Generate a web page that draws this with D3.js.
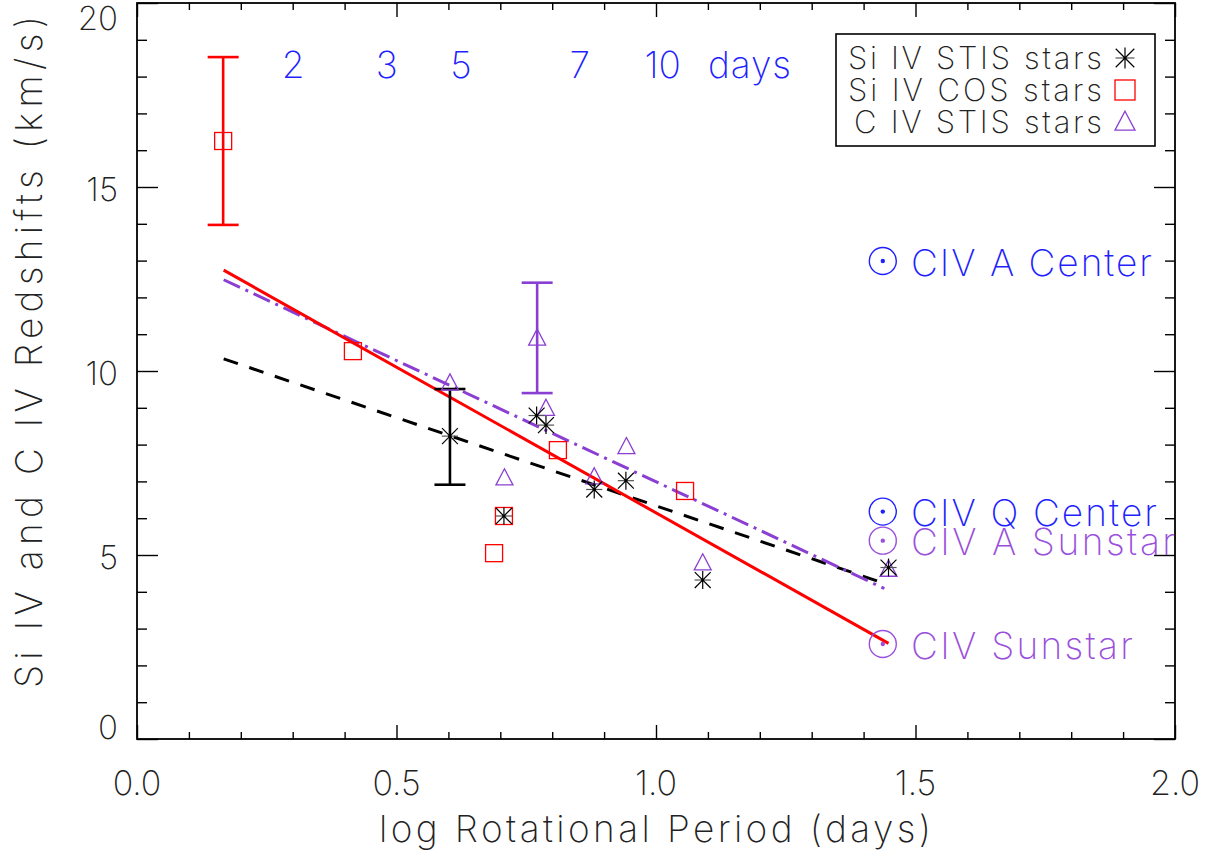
<!DOCTYPE html>
<html><head><meta charset="utf-8">
<script src="https://cdn.jsdelivr.net/npm/d3@7"></script>
<style>
body{margin:0;background:#fff}
text{font-family:"Inter","Lato","DejaVu Sans",sans-serif;font-weight:200}
</style></head>
<body><svg id="c" width="1231" height="857"></svg>
<script>
// ---------------- data ----------------
const siStisX = [0.603, 0.707, 0.770, 0.788, 0.881, 0.942, 1.090, 1.448];
const siStisY = [8.23, 6.06, 8.79, 8.53, 6.78, 7.02, 4.32, 4.66];
const siCosX  = [0.166, 0.416, 0.707, 0.688, 0.811, 1.056];
const siCosY  = [16.25, 10.54, 6.06, 5.05, 7.85, 6.74];
const cStisX  = [0.603, 0.771, 0.788, 0.708, 0.943, 0.881, 1.090, 1.448];
const cStisY  = [9.65, 10.87, 8.96, 7.07, 7.92, 7.10, 4.76, 4.59];
const errX      = [0.166, 0.603, 0.771];
const errLo     = [13.97, 6.91, 9.40];
const errHi     = [18.53, 9.51, 12.40];
const errSeries = ["cos", "stis", "civ"];
const fitCosX  = [0.167, 1.448], fitCosY  = [12.74, 2.60];
const fitStisX = [0.167, 1.446], fitStisY = [10.33, 4.20];
const fitCivX  = [0.167, 1.440], fitCivY  = [12.48, 4.09];
const sunX      = [1.437, 1.437, 1.437, 1.437];
const sunY      = [12.99, 6.18, 5.39, 2.58];
const sunLabels = ["CIV A Center", "CIV Q Center", "CIV A Sunstar", "CIV Sunstar"];
const sunKind   = ["center", "center", "sunstar", "sunstar"];
const topLabels = ["2", "3", "5", "7", "10", "days"];
const topLabelX = [0.301, 0.481, 0.624, 0.853, 1.013, 1.180];
const topLabelY = 18.33;
const xTickVals = [0, 0.5, 1.0, 1.5, 2.0];
const xTickLabels = ["0.0", "0.5", "1.0", "1.5", "2.0"];
const yTickVals = [0, 5, 10, 15, 20];
const yTickLabels = ["0", "5", "10", "15", "20"];
const legendLabels = ["Si IV STIS stars", "Si IV COS stars", "C IV STIS stars"];
const xTitle = "log Rotational Period (days)";
const yTitle = "Si IV and C IV Redshifts (km/s)";

// ---------------- styles ----------------
const RED = "#ff0000", PURPLE = "#8b3fd2", BLUE = "#1f1fff", BLACK = "#000";
const L = 137, R = 1175, T = 3, B = 739;
const svg = d3.select("#c");
const x = d3.scaleLinear().domain([0, 2]).range([L, R]);
const y = d3.scaleLinear().domain([0, 20]).range([B, T]);

// ---------------- axes ----------------
const g = svg.append("g");
function tickAxis(axisFn, scale, major, minorVals, majLen, minLen, transform) {
  const gm = g.append("g").attr("transform", transform)
    .call(axisFn(scale).tickValues(major).tickSize(majLen).tickFormat(""));
  const gn = g.append("g").attr("transform", transform)
    .call(axisFn(scale).tickValues(minorVals).tickSize(minLen).tickFormat(""));
  [gm, gn].forEach(s => {
    s.select(".domain").remove();
    s.selectAll("line").attr("stroke", BLACK).attr("stroke-width", 1.4);
  });
}
const xMinor = d3.range(0, 2.0001, 0.1).filter(v => Math.abs(v*2 - Math.round(v*2)) > 1e-6);
const yMinor = d3.range(0, 20.001, 1).filter(v => v % 5 !== 0);
tickAxis(d3.axisTop, x, xTickVals, xMinor, 14, 7, `translate(0,${B})`);
tickAxis(d3.axisBottom, x, xTickVals, xMinor, 14, 7, `translate(0,${T})`);
tickAxis(d3.axisRight, y, yTickVals, yMinor, 21, 10, `translate(${L},0)`);
tickAxis(d3.axisLeft, y, yTickVals, yMinor, 21, 10, `translate(${R},0)`);
g.append("rect").attr("x", L).attr("y", T).attr("width", R - L).attr("height", B - T)
  .attr("fill", "none").attr("stroke", BLACK).attr("stroke-width", 1.8);

// tick labels
g.selectAll(".xl").data(xTickVals).enter().append("text")
  .attr("x", d => x(d)).attr("y", 795).attr("text-anchor", "middle")
  .attr("font-size", 34).attr("fill", "#222").text((d, i) => xTickLabels[i]);
g.selectAll(".yl").data(yTickVals).enter().append("text")
  .attr("x", 118).attr("text-anchor", "end")
  .attr("y", d => Math.min(Math.max(y(d) + 2, T + 15), B - 12) + 12)
  .attr("font-size", 33).attr("fill", "#222").text((d, i) => yTickLabels[i]);

// axis titles
g.append("text").attr("x", 655).attr("y", 842).attr("text-anchor", "middle")
  .attr("font-size", 37).attr("fill", "#222")
  .attr("textLength", 552).attr("lengthAdjust", "spacing").text(xTitle);
g.append("text").attr("transform", "translate(42,352) rotate(-90)")
  .attr("text-anchor", "middle").attr("font-size", 37).attr("fill", "#222")
  .attr("textLength", 672).attr("lengthAdjust", "spacing").text(yTitle);

// ---------------- fit lines ----------------
const line = d3.line().x(d => x(d[0])).y(d => y(d[1]));
svg.append("path").datum(d3.zip(fitStisX, fitStisY)).attr("d", line)
  .attr("stroke", BLACK).attr("stroke-width", 3).attr("fill", "none").attr("stroke-dasharray", "15,12");
svg.append("path").datum(d3.zip(fitCivX, fitCivY)).attr("d", line)
  .attr("stroke", PURPLE).attr("stroke-width", 3).attr("fill", "none").attr("stroke-dasharray", "18,6,3,6");
svg.append("path").datum(d3.zip(fitCosX, fitCosY)).attr("d", line)
  .attr("stroke", RED).attr("stroke-width", 3).attr("fill", "none");

// ---------------- error bars ----------------
const errColor = {cos: RED, stis: BLACK, civ: PURPLE};
const eb = svg.selectAll(".eb").data(errX.map((v, i) => ({x: v, lo: errLo[i], hi: errHi[i], s: errSeries[i]})))
  .enter().append("g").attr("stroke", d => errColor[d.s]).attr("stroke-width", 2.6);
eb.append("line").attr("x1", d => x(d.x)).attr("x2", d => x(d.x)).attr("y1", d => y(d.lo)).attr("y2", d => y(d.hi));
eb.append("line").attr("x1", d => x(d.x) - 15.5).attr("x2", d => x(d.x) + 15.5).attr("y1", d => y(d.lo)).attr("y2", d => y(d.lo));
eb.append("line").attr("x1", d => x(d.x) - 15.5).attr("x2", d => x(d.x) + 15.5).attr("y1", d => y(d.hi)).attr("y2", d => y(d.hi));

// ---------------- markers ----------------
function square(sel, px, py, s) {
  sel.append("rect").attr("x", px - s/2).attr("y", py - s/2).attr("width", s).attr("height", s)
    .attr("fill", "none").attr("stroke", RED).attr("stroke-width", 1.3);
}
function triangle(sel, px, py, s) {
  const h = s * 0.95;
  sel.append("path").attr("d", `M${px},${py - h*0.62}L${px + s/2},${py + h*0.38}L${px - s/2},${py + h*0.38}Z`)
    .attr("fill", "none").attr("stroke", PURPLE).attr("stroke-width", 1.3);
}
function star(sel, px, py, r) {
  const gg = sel.append("g").attr("stroke", BLACK).attr("stroke-width", 1.2);
  [[0, 1, 1], [1, 0, 0.9], [0.68, 0.68, 1.3], [0.68, -0.68, 1.3]].forEach(([dx, dy, k]) => {
    gg.append("line").attr("x1", px - dx*r*k).attr("y1", py - dy*r*k)
      .attr("x2", px + dx*r*k).attr("y2", py + dy*r*k)
      .attr("stroke", dy === 0 ? "#555" : BLACK);
  });
  gg.append("circle").attr("cx", px).attr("cy", py).attr("r", 1.6).attr("fill", BLACK).attr("stroke", "none");
}
const mk = svg.append("g");
siCosX.forEach((v, i) => square(mk, x(v), y(siCosY[i]), 17));
cStisX.forEach((v, i) => triangle(mk, x(v), y(cStisY[i]), 17));
siStisX.forEach((v, i) => star(mk, x(v), y(siStisY[i]), 9));

// ---------------- sun symbols ----------------
const sunColor = {center: BLUE, sunstar: "#9a50dc"};
sunX.forEach((v, i) => {
  const c = sunColor[sunKind[i]];
  svg.append("circle").attr("cx", x(v)).attr("cy", y(sunY[i])).attr("r", 13.5)
    .attr("fill", "none").attr("stroke", c).attr("stroke-width", 1.4);
  svg.append("circle").attr("cx", x(v)).attr("cy", y(sunY[i])).attr("r", 2.2).attr("fill", c);
  const lens = [241, 246, 264, 222];
  svg.append("text").attr("x", 911).attr("y", y(sunY[i]) + 14.7)
    .attr("font-size", 37).attr("fill", c)
    .attr("textLength", lens[i]).attr("lengthAdjust", "spacing").text(sunLabels[i]);
});

// ---------------- top period labels ----------------
svg.selectAll(".tl").data(topLabels).enter().append("text")
  .attr("x", (d, i) => x(topLabelX[i])).attr("y", y(topLabelY) + 13.5)
  .attr("text-anchor", "middle").attr("font-size", 37).attr("fill", BLUE)
  .attr("textLength", d => d === "days" ? 83 : null).attr("lengthAdjust", "spacing")
  .text(d => d);

// ---------------- legend ----------------
const lg = svg.append("g");
lg.append("rect").attr("x", 836).attr("y", 34).attr("width", 319).attr("height", 112)
  .attr("fill", "#fff").attr("stroke", BLACK).attr("stroke-width", 1.6);
const legLens = [254, 254, 248];
const legRowY = [58, 90, 122];
legendLabels.forEach((t, i) => {
  lg.append("text").attr("x", 1102).attr("y", legRowY[i] + 11).attr("text-anchor", "end")
    .attr("font-size", 31).attr("fill", "#222")
    .attr("textLength", legLens[i]).attr("lengthAdjust", "spacing").text(t);
});
star(lg, 1125, legRowY[0], 10.5);
square(lg, 1125, legRowY[1], 20);
triangle(lg, 1125, legRowY[2] + 1, 20);
</script></body></html>
